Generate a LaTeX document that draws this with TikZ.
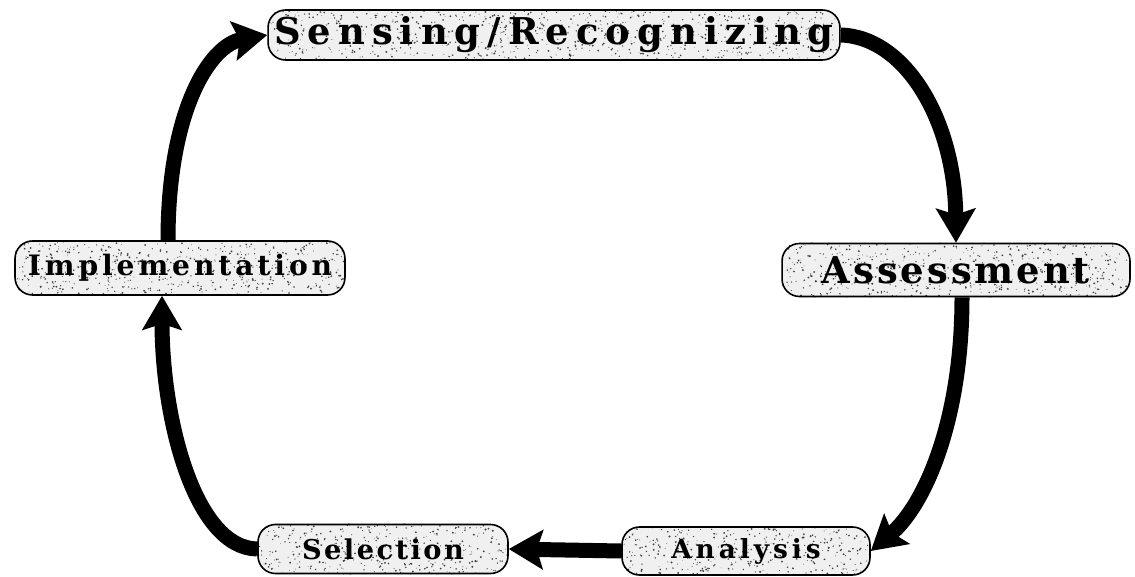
\documentclass[tikz,border=0pt]{standalone}
\usepackage{fontspec}
\newfontfamily\boxfont{DejaVu Serif}
\usetikzlibrary{arrows.meta,calc,backgrounds}
% bold, letter-spaced serif used inside the stage boxes
\newcommand\stagefont[2]{\boxfont\bfseries\fontsize{#1}{#1}\selectfont\addfontfeature{LetterSpace=#2}}
% speckled grey fill behind a stage box
\newcommand\speckle[2]{%
  \begin{scope}[on background layer]
    \fill[gray!12, rounded corners=0.35cm] (#1.south west) rectangle (#1.north east);
    \begin{scope}
      \clip[rounded corners=0.35cm] (#1.south west) rectangle (#1.north east);
      \foreach \k in {1,...,#2}{%
        \fill[black!75] let \p1=(#1.south west), \p2=(#1.north east) in
          ({\x1+rnd*(\x2-\x1)},{\y1+rnd*(\y2-\y1)}) circle ({0.2pt+0.4pt*rnd});
      }
    \end{scope}
  \end{scope}}
\begin{document}
\begin{tikzpicture}[x=0.02cm,y=-0.02cm,
  stage/.style={draw=black, line width=0.9pt, rounded corners=0.35cm,
                inner sep=0pt, align=center},
  flow/.style={line width=0.3cm, -{Stealth[length=0.68cm,width=0.78cm,inset=0.12cm]}},
]
\pgfmathsetseed{7}
\useasboundingbox (0,0) rectangle (1135,577);

% the five stages of the cycle
\node[stage, minimum width=11.44cm, minimum height=1.0cm, font={\stagefont{21}{19}}]
  (sense) at (554,35) {Sensing/Recognizing};
\node[stage, minimum width=6.96cm, minimum height=1.06cm, font={\stagefont{21}{8}}]
  (assess) at (956,270) {Assessment};
\node[stage, minimum width=4.96cm, minimum height=0.96cm, font={\stagefont{15}{15}}]
  (analysis) at (746,551) {Analysis};
\node[stage, minimum width=5.0cm, minimum height=0.98cm, font={\stagefont{15.5}{9}}]
  (select) at (383,549) {Selection};
\node[stage, minimum width=6.6cm, minimum height=1.08cm, font={\stagefont{16}{14}}]
  (impl) at (180,268) {Implementation};

\speckle{sense}{900}
\speckle{assess}{580}
\speckle{analysis}{380}
\speckle{select}{390}
\speckle{impl}{570}

% connectors around the cycle
\draw[flow] (sense.east) .. controls (905,37) and (955,120) .. (assess.north);
\draw[flow] ($(assess.south)+(6,0)$) .. controls (962,420) and (925,505) .. (analysis.east);
\draw[flow] (analysis.west) -- (select.east);
\draw[flow] (select.west) .. controls (195,548) and (162,420) .. ($(impl.south)+(-18,0)$);
\draw[flow] ($(impl.north)+(-12,0)$) .. controls (168,110) and (210,45) .. (sense.west);
\end{tikzpicture}
\end{document}
